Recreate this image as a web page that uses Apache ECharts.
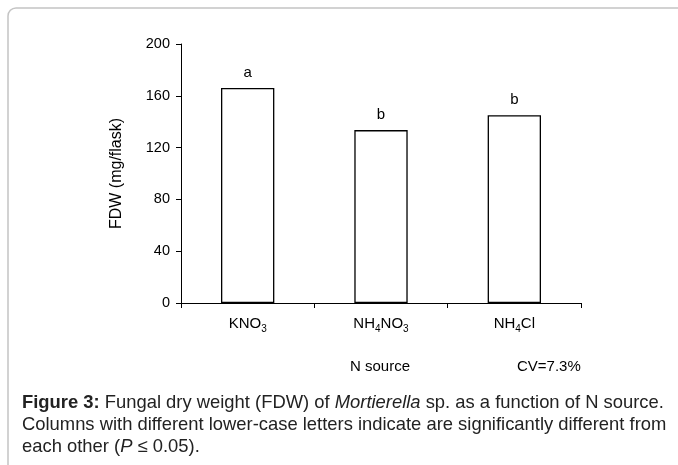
<!DOCTYPE html>
<html>
<head>
<meta charset="utf-8">
<script src="https://cdn.jsdelivr.net/npm/echarts@6/dist/echarts.min.js"></script>
<style>
  html, body { margin: 0; padding: 0; background: #fff; }
  #chart { width: 678px; height: 465px; }
</style>
</head>
<body>
<div id="chart"></div>
<script>
// N source categories, FDW means (mg/flask) and significance letters
const sources = ["KNO3", "NH4NO3", "NH4Cl"];
const fdw = [166, 133.5, 145];
const letters = ["a", "b", "b"];
const yTicks = { min: 0, max: 200, interval: 40 };

const font = "Liberation Sans, Arial, sans-serif";

// turn digits into subscript rich tokens
function chemLabel(name) {
  return name.replace(/(\D+)|(\d+)/g, (m, txt, num) =>
    txt ? "{n|" + txt + "}" : "{s|" + num + "}"
  );
}

const chart = echarts.init(document.getElementById("chart"));
chart.setOption({
  animation: false,
  textStyle: { fontFamily: font },
  grid: { left: 181, right: 97, top: 44, bottom: 162 },
  xAxis: {
    type: "category",
    data: sources,
    axisLine: { lineStyle: { color: "#000", width: 1 } },
    axisTick: { show: true, length: 5, lineStyle: { color: "#000" } },
    axisLabel: {
      interval: 0,
      margin: 11,
      formatter: v => chemLabel(v),
      rich: {
        n: { fontSize: 15, color: "#000", fontFamily: font },
        s: { fontSize: 10, color: "#000", fontFamily: font, padding: [10, 0, 0, 0] }
      }
    }
  },
  yAxis: {
    type: "value",
    min: yTicks.min,
    max: yTicks.max,
    interval: yTicks.interval,
    name: "FDW (mg/flask)",
    nameLocation: "middle",
    nameGap: 56,
    nameTextStyle: { fontSize: 16, color: "#000", fontFamily: font },
    splitLine: { show: false },
    axisLine: { show: true, lineStyle: { color: "#000", width: 1 } },
    axisTick: { show: true, length: 5, lineStyle: { color: "#000" } },
    axisLabel: { fontSize: 14.5, color: "#000", margin: 11 }
  },
  series: [
    {
      type: "bar",
      data: fdw,
      barWidth: "40%",
      itemStyle: { color: "#fff", borderColor: "#000", borderWidth: 1.3 },
      label: {
        show: true,
        position: "top",
        distance: 8,
        fontSize: 15,
        color: "#000",
        formatter: p => letters[p.dataIndex]
      }
    }
  ],
  graphic: [
    {
      type: "rect",
      silent: true,
      shape: { x: 8, y: 8, width: 720, height: 520, r: 8 },
      style: { fill: "none", stroke: "#c4c4c4", lineWidth: 1.5 }
    },
    {
      type: "text",
      left: 350, top: 359,
      style: { text: "N source", fontSize: 15, fill: "#000", fontFamily: font }
    },
    {
      type: "text",
      left: 517, top: 359,
      style: { text: "CV=7.3%", fontSize: 15, fill: "#000", fontFamily: font }
    },
    {
      type: "text",
      left: 22, top: 392,
      style: {
        text: "{b|Figure 3:} Fungal dry weight (FDW) of {i|Mortierella} sp. as a function of N source.\n" +
          "Columns with different lower-case letters indicate are significantly different from\n" +
          "each other ({i|P} \u2264 0.05).",
        fontSize: 18.4,
        lineHeight: 22,
        fill: "#222",
        fontFamily: font,
        rich: {
          b: { fontWeight: "bold", fontSize: 18.4, fill: "#222", fontFamily: font, lineHeight: 22 },
          i: { fontStyle: "italic", fontSize: 18.4, fill: "#222", fontFamily: font, lineHeight: 22 }
        }
      }
    }
  ]
});
</script>
</body>
</html>
